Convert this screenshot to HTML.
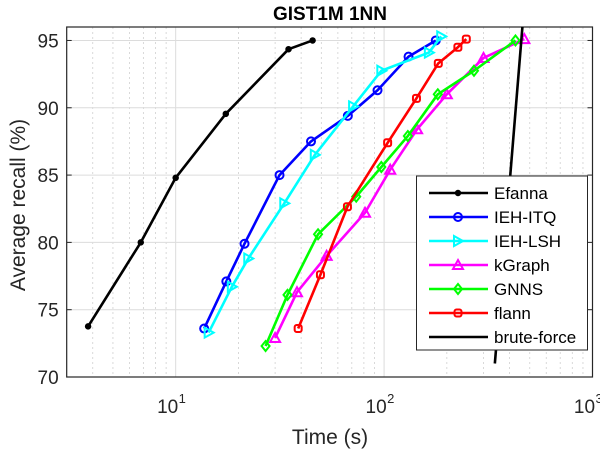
<!DOCTYPE html>
<html><head><meta charset="utf-8"><style>
html,body{margin:0;padding:0;background:#fff;width:600px;height:450px;overflow:hidden}
text{font-family:"Liberation Sans",Arial,sans-serif}
</style></head><body>
<svg id="chart" width="600" height="450" viewBox="0 0 600 450" xmlns="http://www.w3.org/2000/svg"></svg>
<script>
const efannaX=[3.8,6.8,10,17.4,34.8,45.4];
const efannaY=[73.76,80.0,84.8,89.55,94.35,95.0];
const itqX=[13.7,17.5,21.4,31.5,44.6,67,93,131,177];
const itqY=[73.6,77.1,79.9,85.0,87.5,89.4,91.3,93.8,95.0];
const lshX=[14.4,18.6,22.3,33.2,46.5,71,97,164,188];
const lshY=[73.3,76.7,78.8,82.9,86.5,90.1,92.75,94.1,95.3];
const kgX=[30,38.2,53,81,107,144,200,300,471];
const kgY=[72.9,76.3,79.0,82.2,85.4,88.4,91.0,93.7,95.1];
const gnnsX=[27,34.4,48.2,73.5,97,130,181,270,427];
const gnnsY=[72.3,76.1,80.6,83.4,85.6,87.9,91.0,92.75,95.0];
const flannX=[38.7,49.5,66.7,104,143,182,226,248];
const flannY=[73.6,77.6,82.65,87.4,90.7,93.3,94.5,95.1];
const bruteX=[340,461];
const bruteY=[71.0,96.0];
const yTicks=[70,75,80,85,90,95];
const xTickExp=[1,2,3];
const seriesNames=["Efanna","IEH-ITQ","IEH-LSH","kGraph","GNNS","flann","brute-force"];

const L=66.7,R=592.5,T=27,B=377;
const XMIN=3,XMAX=1000,YMIN=70,YMAX=96;
const sx=v=>L+(Math.log10(v)-Math.log10(XMIN))/(Math.log10(XMAX)-Math.log10(XMIN))*(R-L);
const sy=v=>B-(v-YMIN)/(YMAX-YMIN)*(B-T);
const svg=document.getElementById('chart');
const NS="http://www.w3.org/2000/svg";
function mk(tag,attrs,parent){const e=document.createElementNS(NS,tag);for(const k in attrs)e.setAttribute(k,attrs[k]);(parent||svg).appendChild(e);return e;}

const grid=mk('g',{});


for(let d=0;d<=3;d++){for(let m=1;m<=9;m++){const v=m*Math.pow(10,d);if(v<=XMIN||v>=XMAX)continue;const x=sx(v);
 if(m===1){mk('line',{x1:x,x2:x,y1:T,y2:B,stroke:'#dcdcdc','stroke-width':1},grid);}
 else mk('line',{x1:x,x2:x,y1:T,y2:B,stroke:'#d0d0d0','stroke-width':0.8,'stroke-dasharray':'2,3'},grid);}}
yTicks.forEach(v=>{if(v>YMIN)mk('line',{x1:L,x2:R,y1:sy(v),y2:sy(v),stroke:'#dcdcdc','stroke-width':1},grid);});

const box=mk('rect',{x:L,y:T,width:R-L,height:B-T,fill:'none',stroke:'#262626','stroke-width':1.2});


yTicks.forEach(v=>{const y=sy(v);mk('line',{x1:L,x2:L+5,y1:y,y2:y,stroke:'#262626'});mk('line',{x1:R,x2:R-5,y1:y,y2:y,stroke:'#262626'});
 const t=mk('text',{x:L-8,y:y+7,'text-anchor':'end','font-size':19,fill:'#262626'});t.textContent=v;
 
 });
xTickExp.forEach(e=>{const x=sx(Math.pow(10,e));
 const t=mk('text',{x:x-8,y:B+36,'text-anchor':'middle','font-size':19,fill:'#262626'});t.textContent='10';
 
 
 const s=mk('text',{x:x+3,y:B+26,'text-anchor':'start','font-size':13,fill:'#262626'});s.textContent=e;
 
 });

function marker(type,x,y,c,g){
 const sw=2;
 if(type==='*'){mk('circle',{cx:x,cy:y,r:2.5,fill:c,stroke:c,'stroke-width':1.5},g);}
 else if(type==='o'){mk('circle',{cx:x,cy:y,r:4,fill:'none',stroke:c,'stroke-width':sw},g);}
 else if(type==='>'){mk('polygon',{points:`${x-4},${y-5} ${x+5},${y} ${x-4},${y+5}`,fill:'none',stroke:c,'stroke-width':sw},g);}
 else if(type==='^'){mk('polygon',{points:`${x},${y-5} ${x+5},${y+4} ${x-5},${y+4}`,fill:'none',stroke:c,'stroke-width':sw},g);}
 else if(type==='d'){mk('polygon',{points:`${x},${y-5} ${x+4},${y} ${x},${y+5} ${x-4},${y}`,fill:'none',stroke:c,'stroke-width':sw},g);}
 else if(type==='s'){mk('rect',{x:x-3.5,y:y-3.5,width:7,height:7,rx:2,fill:'none',stroke:c,'stroke-width':sw},g);}
}
const series=[
 {xs:efannaX,ys:efannaY,c:'#000000',m:'*',n:'series-efanna'},
 {xs:itqX,ys:itqY,c:'#0000ff',m:'o',n:'series-ieh-itq'},
 {xs:lshX,ys:lshY,c:'#00ffff',m:'>',n:'series-ieh-lsh'},
 {xs:kgX,ys:kgY,c:'#ff00ff',m:'^',n:'series-kgraph'},
 {xs:gnnsX,ys:gnnsY,c:'#00ff00',m:'d',n:'series-gnns'},
 {xs:flannX,ys:flannY,c:'#ff0000',m:'s',n:'series-flann'},
 {xs:bruteX,ys:bruteY,c:'#000000',m:null,n:'series-brute-force'}];
const clip=mk('clipPath',{id:'pc'});mk('rect',{x:L,y:T,width:R-L,height:B-T},clip);
series.forEach(s=>{const g=mk('g',{'clip-path':'url(#pc)'});
 
 
 const pts=s.xs.map((v,i)=>sx(v)+','+sy(s.ys[i])).join(' ');
 mk('polyline',{points:pts,fill:'none',stroke:s.c,'stroke-width':2.6,'stroke-linejoin':'round'},g);
 if(s.m)s.xs.forEach((v,i)=>marker(s.m,sx(v),sy(s.ys[i]),s.c,g));});

const lg=mk('g',{});


mk('rect',{x:416.5,y:176,width:171,height:174,fill:'#fff',stroke:'#262626','stroke-width':1},lg);
series.forEach((s,i)=>{const y=193+i*24;const e=mk('g',{},lg);
 
 
 mk('line',{x1:429,x2:488,y1:y,y2:y,stroke:s.c,'stroke-width':2.6},e);
 if(s.m)marker(s.m,458,y,s.c,e);
 const t=mk('text',{x:494,y:y+6,'font-size':17,fill:'#000'},e);t.textContent=seriesNames[i];});

let t=mk('text',{x:330,y:20,'text-anchor':'middle','font-size':19,'font-weight':'bold',fill:'#000'});t.textContent='GIST1M 1NN';


t=mk('text',{x:330,y:444,'text-anchor':'middle','font-size':21,fill:'#262626'});t.textContent='Time (s)';


t=mk('text',{x:0,y:0,'text-anchor':'middle','font-size':21,fill:'#262626',transform:'translate(25,205) rotate(-90)'});t.textContent='Average recall (%)';


</script>
</body></html>
